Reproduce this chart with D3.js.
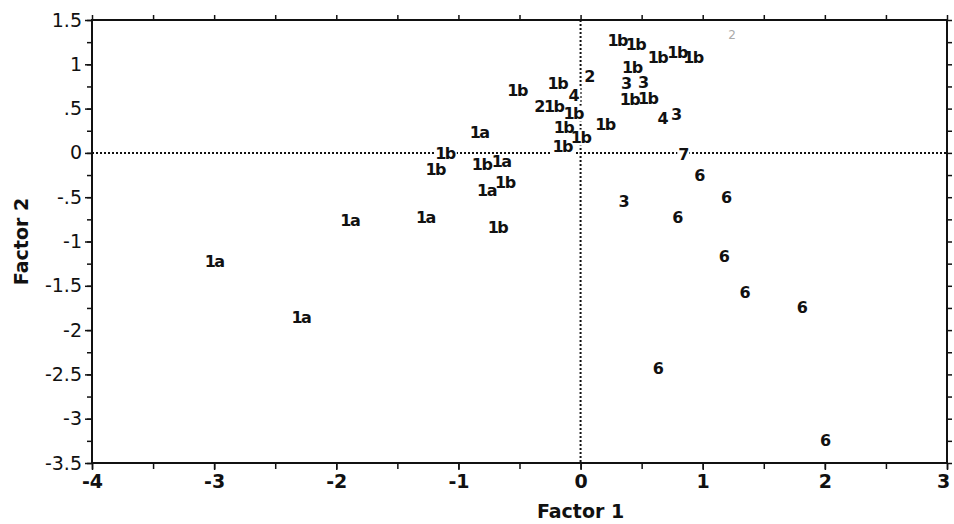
<!DOCTYPE html>
<html>
<head>
<meta charset="utf-8">
<script src="https://cdn.jsdelivr.net/npm/d3@7"></script>
<style>
  body { margin: 0; background: #fff; }
  svg { display: block; }
</style>
</head>
<body>
<svg id="chart"></svg>
<script>
// group codes plotted at their factor scores
const pointLabels = [
  "1b", "1b", "1b", "1b", "1b", "1b", "3", "3", "1b", "1b",
  "4", "3", "1b", "2", "1b", "4", "1b", "2", "1b", "1b",
  "1b", "1b", "1a", "1b", "1b", "7", "1b", "1b", "1a", "1a",
  "1b", "1a", "1a", "1b", "1a", "1a", "6", "6", "3", "6",
  "6", "6", "6", "6", "6"
];
const factor1 = [
  0.30, 0.45, 0.63, 0.79, 0.92, 0.42, 0.37, 0.51, 0.40, 0.55,
  0.67, 0.78, 0.20, 0.07, -0.19, -0.06, -0.52, -0.34, -0.22, -0.06,
  -0.14, 0.00, -0.83, -0.15, -1.11, 0.84, -1.19, -0.81, -0.65, -0.77,
  -0.62, -1.89, -1.27, -0.68, -3.00, -2.29, 0.97, 1.19, 0.35, 0.79,
  1.17, 1.34, 1.81, 0.63, 2.00
];
const factor2 = [
  1.27, 1.22, 1.08, 1.13, 1.08, 0.97, 0.79, 0.80, 0.60, 0.62,
  0.39, 0.43, 0.32, 0.86, 0.79, 0.65, 0.71, 0.52, 0.52, 0.45,
  0.29, 0.18, 0.23, 0.07, 0.00, -0.02, -0.19, -0.13, -0.10, -0.42,
  -0.33, -0.76, -0.73, -0.84, -1.23, -1.86, -0.25, -0.50, -0.55, -0.73,
  -1.17, -1.58, -1.74, -2.43, -3.24
];
// faint stray mark near the top edge
const strayLabels = ["2"];
const strayF1 = [1.24];
const strayF2 = [1.33];

const xTickValues = [-4, -3, -2, -1, 0, 1, 2, 3];
const xTickLabels = ["-4", "-3", "-2", "-1", "0", "1", "2", "3"];
const yTickValues = [1.5, 1, 0.5, 0, -0.5, -1, -1.5, -2, -2.5, -3, -3.5];
const yTickLabels = ["1.5", "1", ".5", "0", "-.5", "-1", "-1.5", "-2", "-2.5", "-3", "-3.5"];

const width = 954;
const height = 524;
const margin = { top: 20, right: 7, bottom: 61, left: 92 };
const font = "'DejaVu Sans', sans-serif";

const svg = d3.select("#chart").attr("width", width).attr("height", height);

const x = d3.scaleLinear().domain([-4, 3]).range([margin.left, width - margin.right]);
const y = d3.scaleLinear().domain([-3.5, 1.5]).range([height - margin.bottom, margin.top]);

const xMinor = d3.range(-4, 3.01, 0.5);
const yMinor = d3.range(-3.5, 1.51, 0.25);

function styleAxis(g) {
  g.select(".domain").remove();
  g.selectAll(".tick line").attr("stroke", "#111").attr("stroke-width", 1.5);
}

// minor ticks (no labels)
svg.append("g")
  .attr("transform", `translate(0,${y(-3.5)})`)
  .call(d3.axisBottom(x).tickValues(xMinor).tickSize(6).tickFormat(""))
  .call(styleAxis);
svg.append("g")
  .attr("transform", `translate(0,${y(1.5)})`)
  .call(d3.axisTop(x).tickValues(xMinor).tickSize(5).tickFormat(""))
  .call(styleAxis);
svg.append("g")
  .attr("transform", `translate(${x(-4)},0)`)
  .call(d3.axisLeft(y).tickValues(yMinor).tickSize(5).tickFormat(""))
  .call(styleAxis);
svg.append("g")
  .attr("transform", `translate(${x(3)},0)`)
  .call(d3.axisRight(y).tickValues(yMinor).tickSize(5).tickFormat(""))
  .call(styleAxis);

// labelled axes
svg.append("g")
  .attr("transform", `translate(0,${y(-3.5)})`)
  .call(d3.axisBottom(x).tickValues(xTickValues).tickSize(7).tickPadding(5)
    .tickFormat((d, i) => xTickLabels[i]))
  .call(styleAxis)
  .selectAll("text")
  .attr("font-family", font)
  .attr("font-weight", "bold")
  .attr("font-size", 19)
  .attr("fill", "#111")
  .attr("dx", (d, i) => (i === xTickValues.length - 1 ? -4 : 0));

svg.append("g")
  .attr("transform", `translate(${x(-4)},0)`)
  .call(d3.axisLeft(y).tickValues(yTickValues).tickSize(7).tickPadding(3)
    .tickFormat((d, i) => yTickLabels[i]))
  .call(styleAxis)
  .selectAll("text")
  .attr("font-family", font)
  .attr("font-size", 19)
  .attr("fill", "#111");

// zero reference lines
svg.append("line")
  .attr("x1", x(-4)).attr("x2", x(3))
  .attr("y1", y(0)).attr("y2", y(0))
  .attr("stroke", "#111").attr("stroke-width", 2)
  .attr("stroke-dasharray", "2,2");
svg.append("line")
  .attr("x1", x(0)).attr("x2", x(0))
  .attr("y1", y(1.5)).attr("y2", y(-3.5))
  .attr("stroke", "#111").attr("stroke-width", 2)
  .attr("stroke-dasharray", "2,2");

// frame
svg.append("rect")
  .attr("x", x(-4)).attr("y", y(1.5))
  .attr("width", x(3) - x(-4)).attr("height", y(-3.5) - y(1.5))
  .attr("fill", "none").attr("stroke", "#111").attr("stroke-width", 2);

const points = pointLabels.map((label, i) => ({ label, f1: factor1[i], f2: factor2[i] }));

// white boxes behind the labels so they break the dotted lines
const knockouts = svg.append("g");

const labels = svg.append("g").selectAll("text")
  .data(points)
  .join("text")
  .attr("x", d => x(d.f1))
  .attr("y", d => y(d.f2))
  .attr("dy", "0.35em")
  .attr("text-anchor", "middle")
  .attr("font-family", font)
  .attr("font-weight", "bold")
  .attr("font-size", 16)
  .attr("letter-spacing", -1.5)
  .attr("fill", "#111")
  .text(d => d.label);

labels.each(function () {
  const b = this.getBBox();
  knockouts.append("rect")
    .attr("x", b.x - 1).attr("y", b.y + 2)
    .attr("width", b.width + 2).attr("height", b.height - 3)
    .attr("fill", "#fff");
});

svg.append("g").selectAll("text")
  .data(strayLabels)
  .join("text")
  .attr("x", (d, i) => x(strayF1[i]))
  .attr("y", (d, i) => y(strayF2[i]))
  .attr("dy", "0.35em")
  .attr("text-anchor", "middle")
  .attr("font-family", font)
  .attr("font-size", 12)
  .attr("fill", "#aaa")
  .text(d => d);

// axis titles
svg.append("text")
  .attr("x", x(0))
  .attr("y", 511)
  .attr("text-anchor", "middle")
  .attr("dy", "0.35em")
  .attr("font-family", font)
  .attr("font-weight", "bold")
  .attr("font-size", 19)
  .attr("fill", "#111")
  .text("Factor 1");

svg.append("text")
  .attr("transform", `translate(21,${y(-1)}) rotate(-90)`)
  .attr("text-anchor", "middle")
  .attr("dy", "0.35em")
  .attr("font-family", font)
  .attr("font-weight", "bold")
  .attr("font-size", 19)
  .attr("fill", "#111")
  .text("Factor 2");
</script>
</body>
</html>
